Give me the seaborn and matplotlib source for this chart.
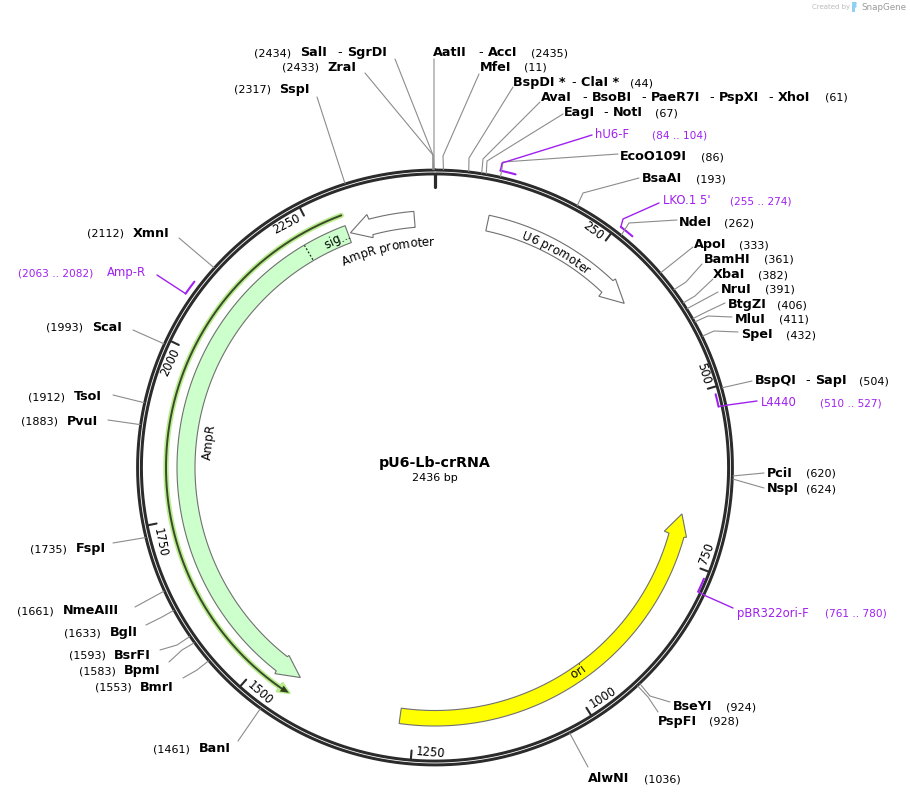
import numpy as np
import matplotlib
matplotlib.use("Agg")
import matplotlib.pyplot as plt
import seaborn as sns

sns.set_theme(style="white")
plt.rcParams['font.family'] = ['DejaVu Sans']

# ---------- data ----------
plasmid_name = "pU6-Lb-crRNA"
plasmid_bp = 2436
ruler_ticks = [250, 500, 750, 1000, 1250, 1500, 1750, 2000, 2250]

site_names = [["SalI", "SgrDI"], ["AatII", "AccI"], ["ZraI"], ["MfeI"], ["SspI"],
              ["BspDI *", "ClaI *"], ["AvaI", "BsoBI", "PaeR7I", "PspXI", "XhoI"],
              ["EagI", "NotI"], ["EcoO109I"], ["BsaAI"], ["NdeI"], ["ApoI"], ["BamHI"],
              ["XbaI"], ["NruI"], ["BtgZI"], ["MluI"], ["SpeI"], ["BspQI", "SapI"],
              ["PciI"], ["NspI"], ["BseYI"], ["PspFI"], ["AlwNI"], ["BanI"], ["BmrI"],
              ["BpmI"], ["BsrFI"], ["BglI"], ["NmeAIII"], ["FspI"], ["PvuI"], ["TsoI"],
              ["ScaI"], ["XmnI"]]
site_bp = [2434, 2435, 2433, 11, 2317, 44, 61, 67, 86, 193, 262, 333, 361, 382, 391,
           406, 411, 432, 504, 620, 624, 924, 928, 1036, 1461, 1553, 1583, 1593, 1633,
           1661, 1735, 1883, 1912, 1993, 2112]

primer_names = ["hU6-F", "LKO.1 5'", "L4440", "pBR322ori-F", "Amp-R"]
primer_start = [84, 255, 510, 761, 2063]
primer_end = [104, 274, 527, 780, 2082]

feature_names = ["U6 promoter", "AmpR promoter", "AmpR", "ori"]
feature_tail = [82, 2404, 2298, 1272]
feature_head = [332, 2302, 1439, 681]
feature_fill = ["#FFFFFF", "#FFFFFF", "#CCFFCC", "#FFFF00"]
signal_name = "sig..."
signal_end = 2230
orf_line_start = 2298
orf_line_end = 1441

# ---------- layout (pixels) ----------
W, H = 910, 796
CX, CY, RMAX = 435.0, 467.5, 320.0
site_y = [52, 52, 67, 67, 89, 82, 97, 112, 156, 178, 222, 244, 259, 274, 289, 304, 319,
          334, 380, 473, 488, 706, 721, 778, 748, 687, 670, 655, 632, 610, 548, 421, 396,
          327, 233]
site_name_x = [[300, 347], [433, 488], [327], [480], [279], [513, 581],
               [541, 592, 651, 719, 778], [564, 613], [620], [642], [679], [694], [704],
               [713], [721], [728], [735], [741], [755, 815], [767], [767], [673], [658],
               [588], [199], [140], [124], [114], [110], [63], [76], [67], [74], [92], [133]]
site_pos_x = [254, 531, 282, 524, 234, 630, 825, 655, 701, 696, 724, 739, 764, 758, 765,
              777, 779, 786, 859, 806, 806, 726, 709, 644, 153, 95, 79, 69, 64, 17, 30,
              21, 28, 46, 87]
site_elbow = [(433, 155), (434, 155), (433, 155), (443, 156), None, (469, 158), (483, 159),
              (487, 161), (503, 162), (583, 193), (629, 223), None, (686, 282), (695, 296),
              None, (708, 311), (708, 316), (714, 331), None, None, None, (650, 696),
              (648, 697), None, None, (197, 670), (182, 650), (177, 645), (162, 617),
              None, None, None, None, None, None]
site_end = [(395, 59), (434, 59), (365, 73), (479, 74), (317, 97), (513, 87), (540, 102),
            (563, 114), (618, 154), (639, 178), (677, 220), (693, 247), (702, 264),
            (713, 279), (718, 292), (725, 303), (732, 317), (738, 332), (752, 381),
            (764, 473), (764, 488), (670, 702), (658, 712), (588, 767), (238, 741),
            (183, 678), (169, 662), (160, 650), (146, 625), (135, 607), (113, 543),
            (108, 420), (113, 395), (133, 330), (179, 238)]

primer_y = [134, 200, 402, 613, 272]
primer_name_x = [595, 663, 761, 737, 107]
primer_pos_x = [652, 730, 820, 825, 18]
primer_radius = [304, 304, 290, 291, 304]
primer_attach = [84, 255, 527, 780, 2063]
primer_elbow = [(502, 163), (623, 219), (728, 405), (706, 596), None]
primer_label_end = [(592, 135), (659, 203), (757, 401), (733, 608), (157, 275)]

SHAFT_IN = [242, 241, 240, 243]
SHAFT_OUT = [258, 257, 258, 258.5]
BARB_IN = [237, 238, 238, 238]
BARB_OUT = [261, 262, 261, 261]
HEAD_LEN = [36, 32, 35, 33]

DARK = "#2b2b2b"
PURPLE = "#A020F0"
GRAY = "#8c8c8c"
TXT = "#000000"
BOLD, NORMAL, PFONT, PPOS = 9.2, 8.0, 8.4, 7.6
RING_R = 295.5


def th(bp):
    return np.asarray(bp, dtype=float) / plasmid_bp * 2 * np.pi


fig = plt.figure(figsize=(W / 100, H / 100), dpi=100, facecolor="white")
pol = fig.add_axes([(CX - RMAX) / W, (H - CY - RMAX) / H, 2 * RMAX / W, 2 * RMAX / H],
                   projection="polar")
ax = fig.add_axes([0, 0, 1, 1], facecolor="none")


def line(theta, r, **kw):
    sns.lineplot(x=theta, y=r, ax=pol, estimator=None, sort=False, errorbar=None,
                 legend=False, **kw)


# backbone ring
ring_bp = np.linspace(0, plasmid_bp, 721)
ring_th = th(ring_bp)
line(ring_th, np.full(721, RING_R), color=DARK, lw=4.9, zorder=3)
line(ring_th, np.full(721, RING_R), color="white", lw=0.6, zorder=4)

# ruler
line(th([0, 0]), [293, 280], color=DARK, lw=2.3, zorder=3)
for v in ruler_ticks:
    line(th([v, v]), [293, 284], color=DARK, lw=1.5, zorder=3)
    a = v / plasmid_bp * 360
    top = a < 90 or a > 270
    rot = -a if top else 180 - a
    pol.text(th(v) - np.radians(1.0), 284.5, str(v), rotation=rot, rotation_mode="anchor",
             ha="right" if top else "left", va="center", fontsize=8.3, color=TXT, clip_on=False)


def arrow(tail, head, r_in, r_out, b_in, b_out, head_len, fill):
    d = np.sign(head - tail)
    base = head - d * head_len
    notch = base - d * 1
    a1 = np.linspace(tail, notch, 120)
    tt = np.concatenate([a1, [base, head, base], a1[::-1]])
    rr = np.concatenate([np.full(120, r_out), [b_out, (r_in + r_out) / 2 + 0.5, b_in],
                         np.full(120, r_in)])
    pol.fill(th(tt), rr, facecolor=fill, edgecolor="#707070", lw=0.8, zorder=2, closed=True)


for i in range(len(feature_names)):
    arrow(feature_tail[i], feature_head[i], SHAFT_IN[i], SHAFT_OUT[i], BARB_IN[i],
          BARB_OUT[i], HEAD_LEN[i], feature_fill[i])

# signal peptide divider
line(th([signal_end, signal_end]), [241, 257.5], color="#222222", lw=0.9,
     linestyle=(0, (1.5, 1.5)), zorder=3)

# ORF line with halo
orf_bp = np.linspace(orf_line_start, orf_line_end + 8, 300)
line(th(orf_bp), np.full(300, 269.0), color="#B9EC8C", lw=3.8, zorder=2)
pol.fill(th([orf_line_end + 16, orf_line_end - 2, orf_line_end + 16]), [274.5, 268.5, 263.5],
         facecolor="#B9EC8C", edgecolor="#B9EC8C", lw=1.2, zorder=2)
line(th(orf_bp), np.full(300, 269.0), color="#3a4a2a", lw=1.4, zorder=3)
pol.fill(th([orf_line_end + 12, orf_line_end, orf_line_end + 12]), [272.5, 268.5, 265.5],
         facecolor="#2f3f20", edgecolor="none", zorder=3)

# primers
for i in range(len(primer_names)):
    seg = np.linspace(primer_start[i], primer_end[i], 12)
    line(th(seg), np.full(12, float(primer_radius[i])), color=PURPLE, lw=1.5, zorder=5)


def char_width(s, size):
    rend = fig.canvas.get_renderer()
    prop = matplotlib.font_manager.FontProperties(family="DejaVu Sans", size=size)
    w = rend.get_text_width_height_descent(s + "|", prop, False)[0]
    return w - rend.get_text_width_height_descent("|", prop, False)[0]


def arc_text(s, angle, r, flip=False, size=8.6):
    total = char_width(s, size)
    for k, ch in enumerate(s):
        if ch == " ":
            continue
        x0 = char_width(s[:k], size)
        x1 = char_width(s[:k + 1], size)
        off = ((x0 + x1) / 2 - total / 2) / r
        if flip:
            a = angle - np.degrees(off)
            rot = 180 - a
            rb = r + 4
        else:
            a = angle + np.degrees(off)
            rot = -a
            rb = r - 4
        pol.text(np.radians(a), rb, ch, rotation=rot, rotation_mode="anchor", ha="center",
                 va="baseline", fontsize=size, color=TXT, zorder=6, clip_on=False)


arc_text(feature_names[0], 29.4, 248.5)
arc_text(feature_names[1], -12.3, 225.5)
arc_text(feature_names[2], -83.6, 228.5)
arc_text(feature_names[3], 145.0, 249, flip=True)
arc_text(signal_name, -23.2, 248.6)

pol.set_theta_zero_location("N")
pol.set_theta_direction(-1)
pol.set_xlim(0, 2 * np.pi)
pol.set_ylim(0, RMAX)
pol.set_rorigin(0)
pol.axis("off")

ax.set_xlim(0, W)
ax.set_ylim(H, 0)
ax.axis("off")


def ring_px(bp, r):
    p = pol.transData.transform((float(th(bp)), float(r)))
    return ax.transData.inverted().transform(p)


# site labels & leaders
for i, names in enumerate(site_names):
    y = site_y[i] + 4
    for n, x in zip(names, site_name_x[i]):
        ax.text(x, y, n, fontsize=BOLD, fontweight="bold", color=TXT, va="baseline")
    for x in site_name_x[i][1:]:
        ax.text(x - 10, y, "-", fontsize=BOLD, color=TXT, va="baseline")
    ax.text(site_pos_x[i], y, f"({site_bp[i]})", fontsize=NORMAL, color=TXT, va="baseline")
    pts = [ring_px(site_bp[i], 298)]
    if site_elbow[i] is not None:
        pts.append(site_elbow[i])
    pts.append(site_end[i])
    pts = np.array(pts)
    sns.lineplot(x=pts[:, 0], y=pts[:, 1], ax=ax, estimator=None, sort=False, errorbar=None,
                 color=GRAY, lw=0.8, zorder=1)

# primer labels & leaders
for i, n in enumerate(primer_names):
    y = primer_y[i] + 4
    ax.text(primer_name_x[i], y, n, fontsize=PFONT, color=PURPLE, va="baseline")
    ax.text(primer_pos_x[i], y, f"({primer_start[i]} .. {primer_end[i]})", fontsize=PPOS,
            color=PURPLE, va="baseline")
    pts = [ring_px(primer_attach[i], primer_radius[i])]
    if primer_elbow[i] is not None:
        pts.append(primer_elbow[i])
    pts.append(primer_label_end[i])
    pts = np.array(pts)
    sns.lineplot(x=pts[:, 0], y=pts[:, 1], ax=ax, estimator=None, sort=False, errorbar=None,
                 color=PURPLE, lw=1.0, zorder=5)

# centre
ax.text(CX, 463, plasmid_name, fontsize=10.3, fontweight="bold", color=TXT, ha="center", va="center")
ax.text(CX, 478, f"{plasmid_bp} bp", fontsize=8, color=TXT, ha="center", va="center")

# credit
ax.text(812, 7, "Created by", fontsize=5.0, color="#bbbbbb", va="center")
ax.fill([852, 856.5, 856.5, 855, 855, 852], [2, 2, 7, 8, 12, 12], color="#8fd0f5", lw=0)
ax.text(861, 7, "SnapGene", fontsize=6.3, color="#9a9a9a", va="center")

ax.set_xlim(0, W)
ax.set_ylim(H, 0)
ax.set_xlabel("")
ax.set_ylabel("")
fig.savefig("out.png", dpi=100)
